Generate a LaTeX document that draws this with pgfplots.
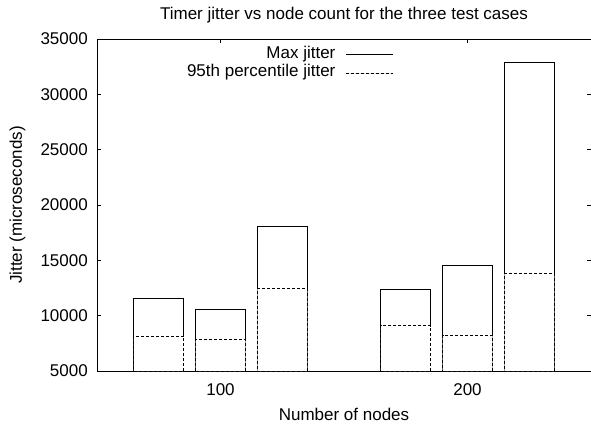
\documentclass[border=0pt]{standalone}
\usepackage{fontspec}
\setmainfont{Liberation Sans}
\usepackage{pgfplots}
\pgfplotsset{compat=1.18}
\begin{document}
\begin{tikzpicture}[font=\fontsize{17}{20}\selectfont]
\begin{axis}[
  at={(97pt,55pt)}, anchor=south west,
  scale only axis, width=494pt, height=332pt,
  xmin=-1, xmax=7, ymin=5000, ymax=35000,
  xtick={1,5}, xticklabels={100,200},
  ytick={5000,10000,15000,20000,25000,30000,35000},
  tick align=inside, tick pos=both, major tick length=4pt,
  /pgf/number format/assume math mode=true,
  /pgf/number format/1000 sep={},
  scaled y ticks=false,
  axis line style={line width=0.8pt},
  every tick/.style={black, line width=0.8pt},
  yticklabel style={anchor=east, inner sep=0pt, xshift=-9pt},
  xticklabel style={anchor=base, inner sep=0pt, yshift=-24pt},
  title={Timer jitter vs node count for the three test cases},
  every axis title shift=0pt,
  title style={at={(0.5,1)}, anchor=base, inner sep=0pt, yshift=19pt},
  xlabel={Number of nodes},
  xlabel style={at={(axis description cs:0.5,0)}, anchor=base, inner sep=0pt, yshift=-49pt},
  ylabel={Jitter (microseconds)},
  ylabel style={at={(axis description cs:-0.161,0.5)}, anchor=center, inner sep=0pt},
  legend style={draw=none, fill=none, at={(rel axis cs:0.6,1)}, anchor=north east, yshift=-6.8pt,
    inner sep=0pt, row sep=0pt, column sep=10pt,
    nodes={inner sep=0pt, text height=12.2pt, text depth=6.3pt}},
  legend cell align=right, legend plot pos=right,
]
\addplot[ybar, bar width=50pt, bar shift=0pt, draw=black, fill=none, line width=0.8pt,
  legend image code/.code={\draw[black, line width=0.8pt] (0pt,0.5pt) -- (47pt,0.5pt);}]
  coordinates {(0,11570) (1,10575) (2,18040) (4,12410) (5,14550) (6,32890)};
\addlegendentry{Max jitter}
\addplot[ybar, bar width=50pt, bar shift=0pt, draw=black, fill=white, line width=0.8pt, dash pattern=on 3pt off 2pt,
  legend image code/.code={\draw[black, line width=0.8pt, dash pattern=on 3pt off 2pt] (0pt,0.5pt) -- (47pt,0.5pt);}]
  coordinates {(0,8160) (1,7865) (2,12470) (4,9090) (5,8225) (6,13830)};
\addlegendentry{95th percentile jitter}
\end{axis}
\pgfresetboundingbox
\useasboundingbox (0,0) rectangle (591pt,426pt);
\end{tikzpicture}
\end{document}
